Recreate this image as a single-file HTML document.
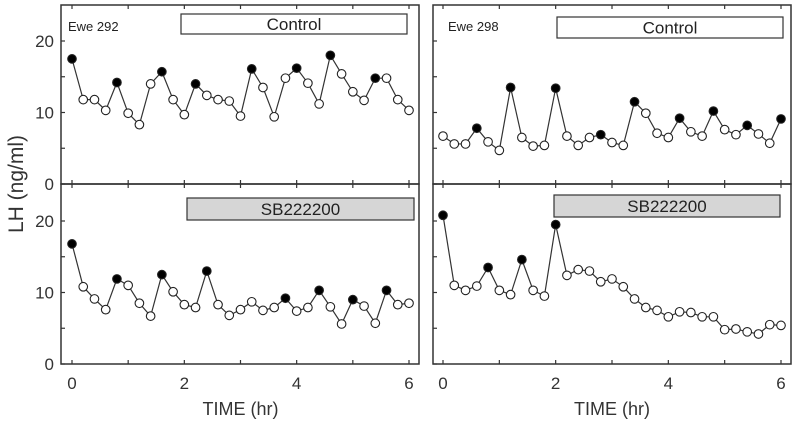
<!DOCTYPE html>
<html><head><meta charset="utf-8"><style>
body{margin:0;background:#fff;}
svg{display:block;font-family:"Liberation Sans",sans-serif;}
</style></head><body>
<svg id="chart" width="800" height="423"></svg>
<script>
const timesHr = [0,0.2,0.4,0.6,0.8,1,1.2,1.4,1.6,1.8,2,2.2,2.4,2.6,2.8,3,3.2,3.4,3.6,3.8,4,4.2,4.4,4.6,4.8,5,5.2,5.4,5.6,5.8,6];
const ewe292Control = [17.5,11.8,11.8,10.3,14.2,9.9,8.3,14.0,15.7,11.8,9.7,14.0,12.4,11.8,11.6,9.5,16.1,13.5,9.4,14.8,16.2,14.1,11.2,18.0,15.4,12.9,11.7,14.8,14.8,11.8,10.3];
const ewe292ControlPulses = [0,4,8,11,16,20,23,27];
const ewe298Control = [6.7,5.6,5.6,7.8,5.9,4.7,13.5,6.5,5.3,5.4,13.4,6.7,5.4,6.5,6.9,5.8,5.4,11.5,9.9,7.1,6.5,9.2,7.3,6.7,10.2,7.6,6.9,8.2,7.0,5.7,9.1];
const ewe298ControlPulses = [3,6,10,14,17,21,24,27,30];
const ewe292SB = [16.8,10.8,9.1,7.6,11.9,11.0,8.5,6.7,12.5,10.1,8.3,7.9,13.0,8.3,6.8,7.6,8.7,7.5,7.9,9.2,7.4,7.9,10.3,8.0,5.6,9.0,8.1,5.7,10.3,8.3,8.5];
const ewe292SBPulses = [0,4,8,12,19,22,25,28];
const ewe298SB = [20.8,11.0,10.3,10.9,13.5,10.3,9.7,14.6,10.3,9.5,19.5,12.4,13.2,13.0,11.5,11.9,10.8,9.1,7.9,7.5,6.6,7.3,7.2,6.6,6.6,4.8,4.9,4.5,4.2,5.5,5.4];
const ewe298SBPulses = [0,4,7,10];
const yTickLabels = [0,10,20];
const xTickLabels = [0,2,4,6];

const NS="http://www.w3.org/2000/svg";
const svg=document.getElementById('chart');
function mk(tag,attrs,parent){const e=document.createElementNS(NS,tag);for(const k in attrs)e.setAttribute(k,attrs[k]);(parent||svg).appendChild(e);return e;}

const panels=[
 {name:'ewe292-control',x0:61,x1:419,xz:72,x6:409,y0:184,yTop:5,data:ewe292Control,pulses:ewe292ControlPulses,ylab:true,xlab:false,label:'Ewe 292',lx:68,box:[181,14,226,20],boxText:'Control',fill:'#fff'},
 {name:'ewe298-control',x0:433,x1:791,xz:443,x6:781,y0:184,yTop:5,data:ewe298Control,pulses:ewe298ControlPulses,ylab:false,xlab:false,label:'Ewe 298',lx:448,box:[557,17,226,21],boxText:'Control',fill:'#fff'},
 {name:'ewe292-sb222200',x0:61,x1:419,xz:72,x6:409,y0:364,yTop:184,data:ewe292SB,pulses:ewe292SBPulses,ylab:true,xlab:true,box:[187,198,227,22],boxText:'SB222200',fill:'#d6d6d6'},
 {name:'ewe298-sb222200',x0:433,x1:791,xz:443,x6:781,y0:364,yTop:184,data:ewe298SB,pulses:ewe298SBPulses,ylab:false,xlab:true,box:[554,195,226,22],boxText:'SB222200',fill:'#d6d6d6'}
];
const pxPerUnit=7.15;
panels.forEach(p=>{
  const g=mk('g',{});
  
  
  const X=t=>p.xz+(p.x6-p.xz)*t/6;
  const Y=v=>p.y0-v*pxPerUnit;
  mk('rect',{x:p.x0,y:p.yTop,width:p.x1-p.x0,height:p.y0-p.yTop,fill:'none',stroke:'#333','stroke-width':1.5},g);
  for(let t=0;t<=6;t++){mk('line',{x1:X(t),x2:X(t),y1:p.y0,y2:p.y0-4,stroke:'#333','stroke-width':1.2},g);mk('line',{x1:X(t),x2:X(t),y1:p.yTop,y2:p.yTop+4,stroke:'#333','stroke-width':1.2},g);}
  for(let v=0;v<=20;v+=5){mk('line',{x1:p.x0,x2:p.x0+4,y1:Y(v),y2:Y(v),stroke:'#333','stroke-width':1.2},g);}
  if(p.ylab) yTickLabels.forEach(v=>{const t=mk('text',{x:p.x0-7,y:Y(v)+6,'text-anchor':'end','font-size':17,fill:'#333'},g);t.textContent=v;
    
    });
  if(p.xlab){xTickLabels.forEach(v=>{const t=mk('text',{x:X(v),y:389,'text-anchor':'middle','font-size':17,fill:'#333'},g);t.textContent=v;
    
    });
    const tt=mk('text',{x:(p.xz+p.x6)/2,y:415,'text-anchor':'middle','font-size':18,fill:'#333'},g);tt.textContent='TIME (hr)';
    
    }
  if(p.label){const t=mk('text',{x:p.lx,y:31,'font-size':13,fill:'#222'},g);t.textContent=p.label;
    
    }
  const b=mk('rect',{x:p.box[0],y:p.box[1],width:p.box[2],height:p.box[3],fill:p.fill,stroke:'#333','stroke-width':1.2},g);
  
  
  const bt=mk('text',{x:p.box[0]+p.box[2]/2,y:p.box[1]+p.box[3]/2+6,'text-anchor':'middle','font-size':17,fill:'#222'},g);bt.textContent=p.boxText;
  
  
  const pts=p.data.map((v,i)=>X(timesHr[i])+','+Y(v)).join(' ');
  const line=mk('polyline',{points:pts,fill:'none',stroke:'#333','stroke-width':1.2},g);
  
  
  p.data.forEach((v,i)=>{const filled=p.pulses.includes(i);
    const c=mk('circle',{cx:X(timesHr[i]),cy:Y(v),r:4.3,fill:filled?'#000':'#fff',stroke:'#222','stroke-width':1.1},g);
    
    });
});
const yt=mk('text',{x:0,y:0,transform:'translate(23,184) rotate(-90)','text-anchor':'middle','font-size':21,fill:'#333'});
yt.textContent='LH (ng/ml)';


</script>
</body></html>
